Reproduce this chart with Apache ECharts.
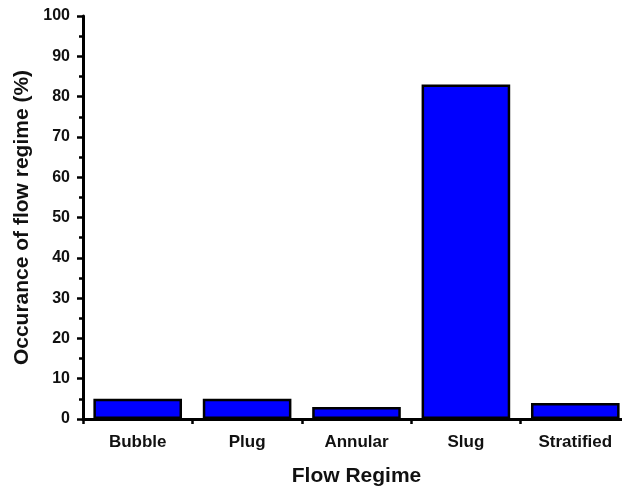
<!DOCTYPE html>
<html>
<head>
<meta charset="utf-8">
<script src="https://cdn.jsdelivr.net/npm/echarts@6/dist/echarts.min.js"></script>
<style>
  html, body { margin: 0; padding: 0; background: #fff; }
</style>
</head>
<body>
<!-- chart container -->
<div id="main" style="width: 622px; height: 488px"></div>
<script>
var categories = ['Bubble', 'Plug', 'Annular', 'Slug', 'Stratified'];
var occurance = [5, 5, 3, 83, 4];
var boundaryTicks = [0, 1, 2, 3, 4, 5];

var font = 'Arial, "Liberation Sans", sans-serif';
var chart = echarts.init(document.getElementById('main'));
chart.setOption({
  animation: false,
  textStyle: { fontFamily: font },
  grid: { left: 83, top: 16, width: 547, bottom: 69, outerBoundsMode: 'none', containLabel: false },
  xAxis: [
    {
      type: 'category',
      data: categories,
      name: 'Flow Regime',
      nameLocation: 'middle',
      nameGap: 47,
      nameTextStyle: { fontSize: 21, fontWeight: 'bold', color: '#111', fontFamily: font },
      axisLine: { lineStyle: { color: '#000', width: 3 } },
      axisTick: { alignWithLabel: true, length: 6, lineStyle: { color: '#000', width: 2.5 } },
      axisLabel: { fontSize: 17, fontWeight: 'bold', color: '#111', margin: 15, fontFamily: font }
    },
    {
      type: 'value',
      min: 0,
      max: 5,
      interval: 1,
      position: 'bottom',
      axisLine: { show: false },
      axisTick: { show: true, length: 5, lineStyle: { color: '#000', width: 2.5 } },
      axisLabel: { show: false },
      splitLine: { show: false }
    }
  ],
  yAxis: {
    type: 'value',
    min: 0,
    max: 100,
    interval: 10,
    name: 'Occurance of flow regime (%)',
    nameLocation: 'middle',
    nameGap: 40,
    nameTextStyle: { fontSize: 21, fontWeight: 'bold', color: '#111', fontFamily: font },
    axisLine: { show: true, lineStyle: { color: '#000', width: 3 } },
    axisTick: { show: true, length: 6, lineStyle: { color: '#000', width: 2.5 } },
    minorTick: { show: true, splitNumber: 2, length: 4, lineStyle: { color: '#000', width: 2.5 } },
    axisLabel: { fontSize: 16, fontWeight: 'bold', color: '#111', margin: 13, fontFamily: font },
    splitLine: { show: false }
  },
  series: [
    {
      type: 'bar',
      data: occurance,
      barWidth: '81%',
      itemStyle: { color: '#0000ff', borderColor: '#000', borderWidth: 2.5 }
    },
    {
      type: 'scatter',
      xAxisIndex: 1,
      data: boundaryTicks.map(function (v) { return [v, 0]; }),
      symbolSize: 0,
      silent: true
    }
  ]
});
</script>
</body>
</html>
